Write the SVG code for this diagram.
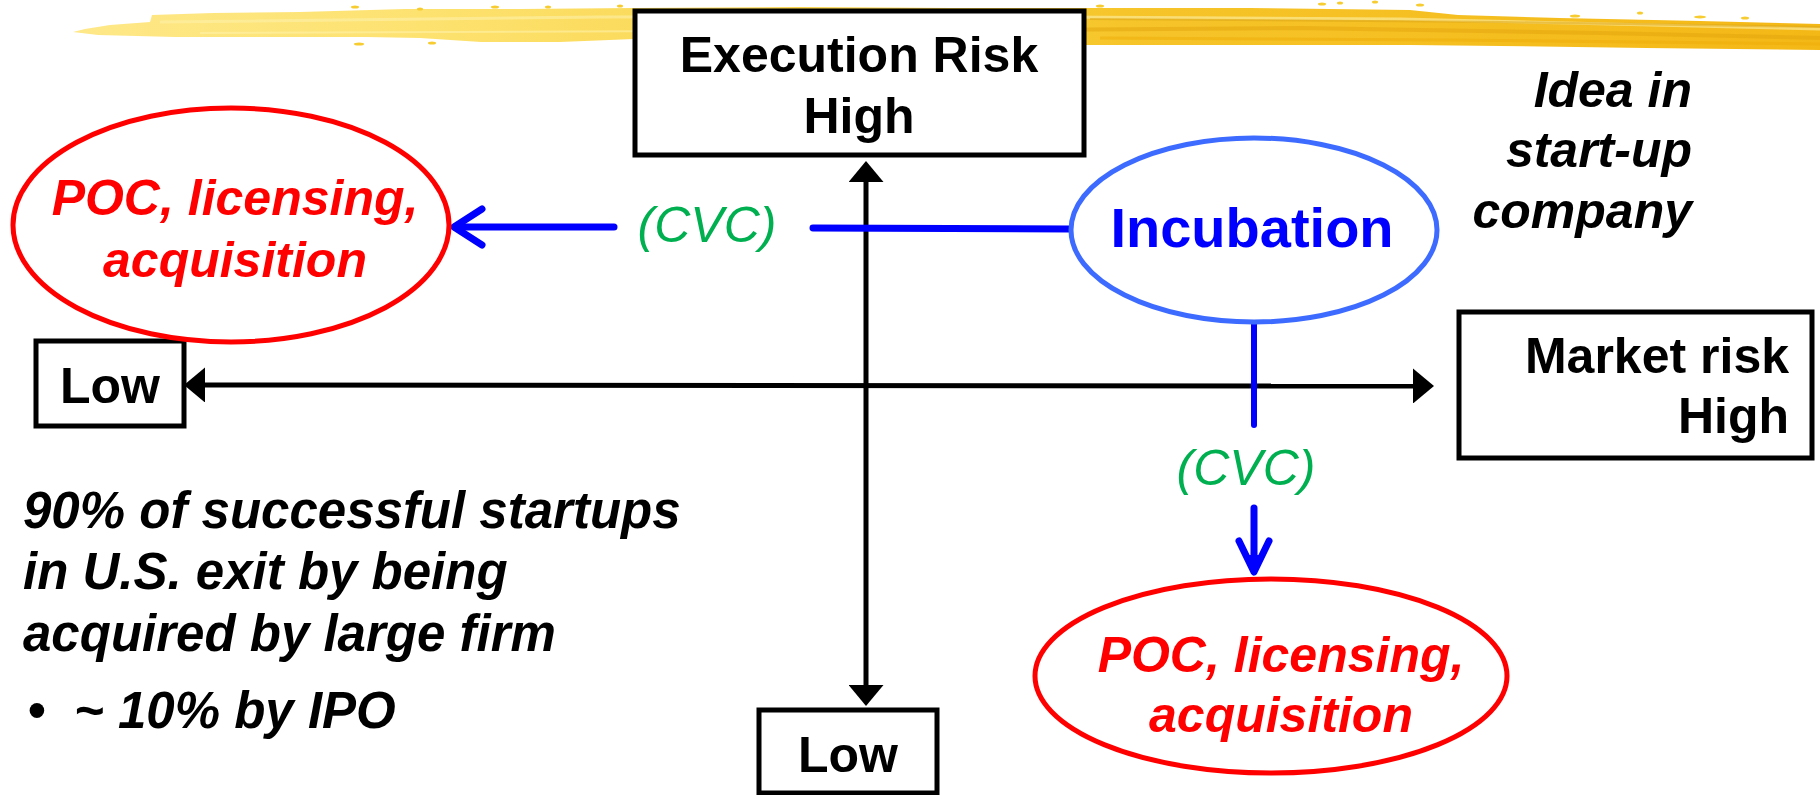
<svg xmlns="http://www.w3.org/2000/svg" width="1820" height="795" viewBox="0 0 1820 795">
<defs>
  <linearGradient id="brush" x1="0" y1="0" x2="1" y2="0">
    <stop offset="0" stop-color="#fee888"/>
    <stop offset="0.2" stop-color="#fde270"/>
    <stop offset="0.45" stop-color="#f9d448"/>
    <stop offset="0.6" stop-color="#f6c52a"/>
    <stop offset="1" stop-color="#f4b816"/>
  </linearGradient>
  <marker id="tri" markerUnits="userSpaceOnUse" markerWidth="21" markerHeight="35" viewBox="0 0 21 35" refX="1" refY="17.5" orient="auto-start-reverse">
    <path d="M0,0 L21,17.5 L0,35 z" fill="#000"/>
  </marker>
</defs>
<style>
  .box{fill:#fff;stroke:#000;stroke-width:5}
  .t{font-family:"Liberation Sans",Arial,sans-serif;font-weight:bold;font-size:50px;fill:#000}
  .it{font-style:italic}
  .red{fill:#ff0000}
  .note{font-size:51px}
  .cvc{font-family:"Liberation Sans",Arial,sans-serif;font-style:italic;font-size:50px;fill:#00b050}
  .axis{stroke:#000;stroke-width:5;fill:none}
  .bl{stroke:#0000ff;fill:none;stroke-linecap:round;stroke-linejoin:round}
  .rell{fill:#fff;stroke:#ff0000;stroke-width:5}
  .dot{fill:#f7cc30}
</style>

<g id="brush-stroke">
  <path d="M73,32 L85,29 L110,25 L150,22 L152,15 L213,13 L300,12 L405,9 L520,9 L634,8 L800,7 L950,8 L1080,8 L1250,8 L1410,10 L1458,15 L1560,18 L1700,21 L1820,24 L1820,50 L1646,48 L1500,46 L1410,45 L1250,45 L1080,45 L950,44 L800,41 L634,39 L560,42 L481,42 L420,38 L366,37 L250,37 L175,37 L98,35 Z" fill="url(#brush)"/>
  <path d="M160,22 L600,17 L900,16 L1400,19 L1820,29" stroke="#fdf0a8" stroke-width="3" fill="none" opacity="0.6"/>
  <path d="M1000,30 L1300,28 L1600,33 L1820,38" stroke="#e3a60e" stroke-width="4" fill="none" opacity="0.55"/>
  <path d="M1090,19 L1500,22 L1820,27" stroke="#d9a416" stroke-width="2" fill="none" opacity="0.5"/>
  <path d="M1100,38 L1450,40 L1820,44" stroke="#eeab08" stroke-width="3" fill="none" opacity="0.5"/>
  <path d="M200,33 L700,31 L1000,36" stroke="#fff1a8" stroke-width="2" fill="none" opacity="0.6"/>
  <ellipse class="dot" cx="355" cy="7" rx="4" ry="1.5"/>
  <ellipse class="dot" cx="420" cy="9" rx="3" ry="1.5"/>
  <ellipse class="dot" cx="495" cy="7" rx="4" ry="1.5"/>
  <ellipse class="dot" cx="548" cy="7" rx="3" ry="1.5"/>
  <ellipse class="dot" cx="620" cy="6" rx="3" ry="1.5"/>
  <ellipse class="dot" cx="359" cy="44" rx="5" ry="1.5"/>
  <ellipse class="dot" cx="432" cy="43" rx="4" ry="1.5"/>
  <ellipse class="dot" cx="1322" cy="4" rx="4" ry="1.5"/>
  <ellipse class="dot" cx="1340" cy="3" rx="3" ry="1.5"/>
  <ellipse class="dot" cx="1375" cy="2" rx="3" ry="1.5"/>
  <ellipse class="dot" cx="1420" cy="5" rx="4" ry="1.5"/>
  <ellipse class="dot" cx="1575" cy="16" rx="5" ry="1.5"/>
  <ellipse class="dot" cx="1640" cy="13" rx="3" ry="1.5"/>
  <ellipse class="dot" cx="1700" cy="17" rx="6" ry="1.5"/>
  <ellipse class="dot" cx="1745" cy="18" rx="4" ry="1.5"/>
  <ellipse class="dot" cx="1100" cy="6" rx="4" ry="1.5"/>
</g>

<g id="connectors">
  <line class="axis" x1="204" y1="385" x2="1414" y2="386" marker-start="url(#tri)" marker-end="url(#tri)"/>
  <line class="axis" x1="866" y1="181" x2="866" y2="686" marker-start="url(#tri)" marker-end="url(#tri)"/>
  <line class="bl" x1="614" y1="227" x2="455" y2="227" stroke-width="7"/>
  <path class="bl" d="M482,209 L454,227 L482,245" stroke-width="7"/>
  <line class="bl" x1="813" y1="228" x2="1070" y2="229" stroke-width="7" stroke-linecap="butt"/>
  <line class="bl" x1="1254" y1="322" x2="1254" y2="425" stroke-width="6" stroke-linecap="butt"/>
  <line class="bl" x1="1254" y1="508" x2="1254" y2="568" stroke-width="7" stroke-linecap="butt"/>
  <path class="bl" d="M1239,541 L1254,572 L1269,541" stroke-width="7"/>
  <path d="M1245,555 L1254,572 L1263,555 Z" fill="#0000ff"/>
  <text class="cvc" x="707" y="242" text-anchor="middle">(CVC)</text>
  <text class="cvc" x="1246" y="485" text-anchor="middle">(CVC)</text>
</g>

<g id="exec-high">
  <rect class="box" x="635" y="11" width="449" height="144"/>
  <text class="t" x="859" y="72" text-anchor="middle">Execution Risk</text>
  <text class="t" x="859" y="133" text-anchor="middle">High</text>
</g>

<g id="exec-low">
  <rect class="box" x="759" y="710" width="178" height="83"/>
  <text class="t" x="848" y="772" text-anchor="middle">Low</text>
</g>

<g id="market-low">
  <rect class="box" x="36" y="341" width="148" height="85"/>
  <text class="t" x="110" y="403" text-anchor="middle">Low</text>
</g>

<g id="market-high">
  <rect class="box" x="1459" y="312" width="353" height="146"/>
  <text class="t" x="1789" y="373" text-anchor="end">Market risk</text>
  <text class="t" x="1789" y="433" text-anchor="end">High</text>
</g>

<g id="poc-left">
  <ellipse class="rell" cx="231" cy="225" rx="218" ry="117"/>
  <text class="t it red" x="235" y="215" text-anchor="middle">POC, licensing,</text>
  <text class="t it red" x="235" y="277" text-anchor="middle">acquisition</text>
</g>

<g id="incubation">
  <ellipse cx="1254" cy="230" rx="183" ry="92" fill="#fff" stroke="#3d6bff" stroke-width="5"/>
  <text class="t" x="1252" y="247" text-anchor="middle" style="font-size:56px;fill:#0000ff">Incubation</text>
</g>

<g id="poc-bottom">
  <ellipse class="rell" cx="1271" cy="676" rx="236" ry="97"/>
  <text class="t it red" x="1281" y="672" text-anchor="middle">POC, licensing,</text>
  <text class="t it red" x="1281" y="732" text-anchor="middle">acquisition</text>
</g>

<g id="idea">
  <text class="t it" x="1692" y="107" text-anchor="end">Idea in</text>
  <text class="t it" x="1692" y="167" text-anchor="end">start-up</text>
  <text class="t it" x="1692" y="228" text-anchor="end">company</text>
</g>

<g id="note">
  <text class="t it note" x="23" y="528">90% of successful startups</text>
  <text class="t it note" x="23" y="589">in U.S. exit by being</text>
  <text class="t it note" x="23" y="651">acquired by large firm</text>
  <text class="t note" x="37" y="728" text-anchor="middle">•</text>
  <text class="t it note" x="74" y="728">~ 10% by IPO</text>
</g>
</svg>
